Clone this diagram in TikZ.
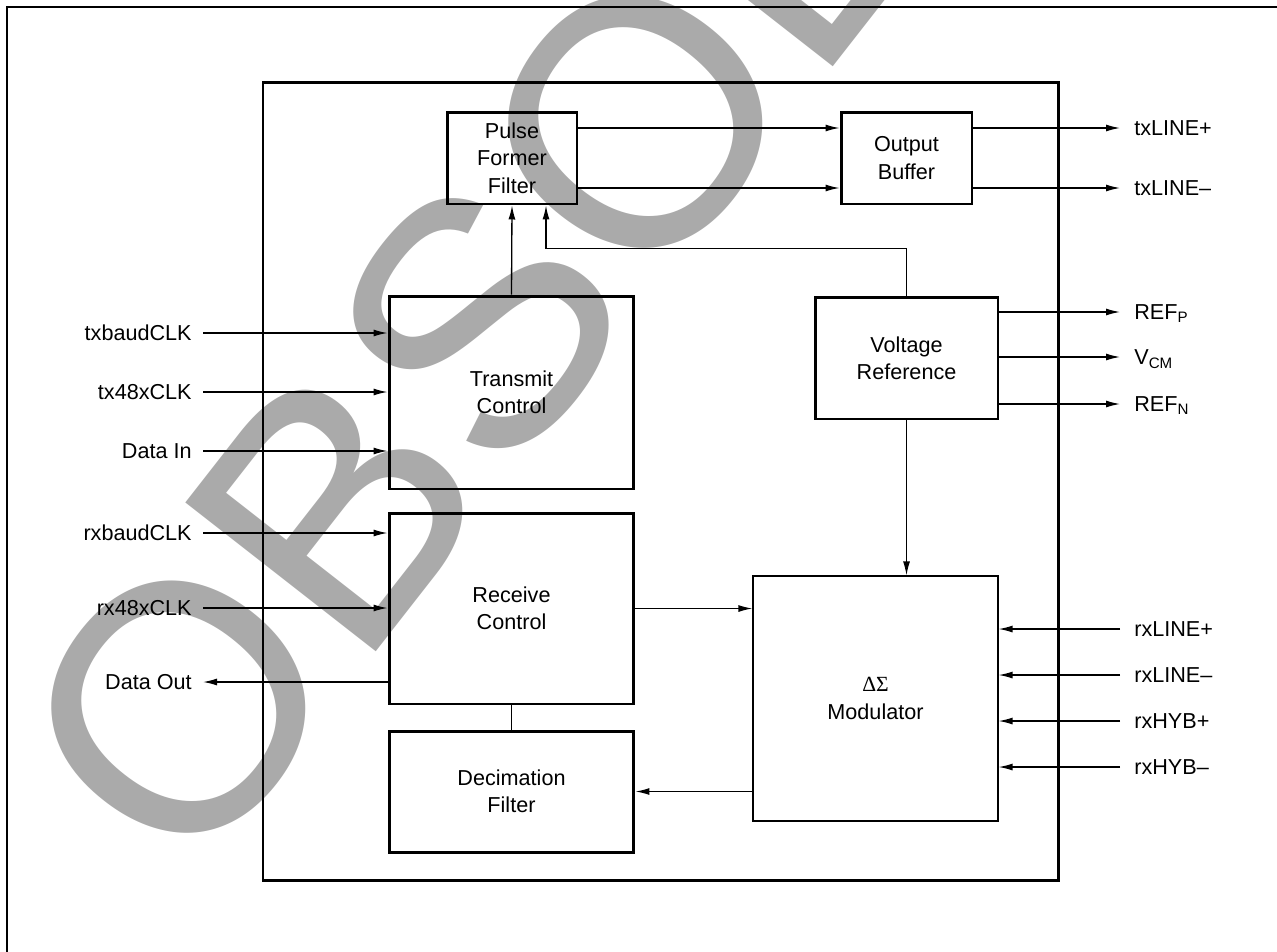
\documentclass[tikz,border=0pt]{standalone}
\usepackage{fontspec}
\setmainfont{Liberation Sans}
\newfontfamily\deltafont{Liberation Serif}
\newfontfamily\stampfont{Liberation Sans}
\usepackage{tikz}
\usetikzlibrary{arrows.meta,calc}

\definecolor{stampgray}{RGB}{170,170,170}
\newcommand{\labelfont}{\fontsize{12.3}{15.6}\selectfont}

\tikzset{
  block/.style={draw, line width=1.7pt, align=center, inner sep=0pt, font=\labelfont},
  pinl/.style={anchor=east, inner xsep=0.22cm, inner ysep=0pt, text height=8.8pt, text depth=0pt, font=\labelfont},
  pinr/.style={anchor=west, inner xsep=0.28cm, inner ysep=0pt, text height=8.8pt, text depth=0pt, font=\labelfont},
  sig/.style={line width=0.75pt, -{Latex[length=0.28cm,width=0.14cm]}},
  stamp/.style={text=stampgray, inner sep=0pt, font=\stampfont\fontsize{200}{200}\selectfont}
}

\begin{document}
\begin{tikzpicture}[x=0.02cm,y=-0.02cm]
    \useasboundingbox (0,0) rectangle (1277,951);

    % Watermark
    \node[stamp, rotate=52, anchor=base west] (stamp) at (190,890) {OBSOLETE};

    % Frame and chip outline
    \draw[line width=1.4pt] (7,970) -- (7,7) -- (1300,7);
    \draw[line width=1.7pt] (263,82) rectangle (1058,880);

    % Blocks
    \node[block, minimum width=2.6cm, minimum height=1.84cm] (pff) at (512,158) {Pulse\\Former\\Filter};
    \node[block, minimum width=2.62cm, minimum height=1.84cm] (ob) at (906.5,158) {Output\\Buffer};
    \node[block, minimum width=4.9cm, minimum height=3.86cm] (tc) at (511.5,392.5) {Transmit\\Control};
    \node[block, minimum width=3.66cm, minimum height=2.44cm] (vr) at (906.5,358) {Voltage\\Reference};
    \node[block, minimum width=4.9cm, minimum height=3.82cm] (rc) at (511.5,608.5) {Receive\\Control};
    \node[block, minimum width=4.9cm, minimum height=2.42cm] (df) at (511.5,791.5) {Decimation\\Filter};
    \node[block, line width=0.7pt, minimum width=4.9cm, minimum height=4.9cm] (mod) at (875.5,698.5) {{\deltafont ΔΣ}\\Modulator};

    % Pins, left side
    \node[pinl] (txbaud) at (203,333) {txbaudCLK};
    \node[pinl] (txclk) at (203,392) {tx48xCLK};
    \node[pinl] (din) at (203,451) {Data In};
    \node[pinl] (rxbaud) at (203,533) {rxbaudCLK};
    \node[pinl] (rxclk) at (203,608) {rx48xCLK};
    \node[pinl] (dout) at (203,682) {Data Out};

    % Pins, right side
    \node[pinr] (txp) at (1120,128) {txLINE+};
    \node[pinr] (txn) at (1120,188) {txLINE–};
    \node[pinr] (refp) at (1120,312) {REF\textsubscript{P}};
    \node[pinr] (vcm) at (1120,357) {V\textsubscript{CM}};
    \node[pinr] (refn) at (1120,404) {REF\textsubscript{N}};
    \node[pinr] (rxlp) at (1120,629) {rxLINE+};
    \node[pinr] (rxln) at (1120,675) {rxLINE–};
    \node[pinr] (rxhp) at (1120,721) {rxHYB+};
    \node[pinr] (rxhn) at (1120,767) {rxHYB–};

    % Transmit path
    \draw[sig] (tc.north) -- (pff.south);
    \draw[sig] (pff.east |- txp) -- (ob.west |- txp);
    \draw[sig] (pff.east |- txn) -- (ob.west |- txn);
    \draw[sig] (ob.east |- txp) -- (txp.west);
    \draw[sig] (ob.east |- txn) -- (txn.west);
    \draw[sig] (txbaud.east) -- (txbaud.east -| tc.west);
    \draw[sig] (txclk.east) -- (txclk.east -| tc.west);
    \draw[sig] (din.east) -- (din.east -| tc.west);

    % Reference
    \coordinate (vrtap) at ($(pff.south)+(34,0)$);
    \draw[sig] (vr.north) -- ++(0,-47) -| (vrtap);
    \draw[sig] (vr.east |- refp) -- (refp.west);
    \draw[sig] (vr.east |- vcm) -- (vcm.west);
    \draw[sig] (vr.east |- refn) -- (refn.west);
    \draw[sig] (vr.south) -- (vr.south |- mod.north);

    % Receive path
    \draw[sig] (rxbaud.east) -- (rxbaud.east -| rc.west);
    \draw[sig] (rxclk.east) -- (rxclk.east -| rc.west);
    \draw[sig] (dout.east -| rc.west) -- (dout.east);
    \draw[sig] (rc.east) -- (rc.east -| mod.west);
    \draw[line width=0.75pt] (rc.south) -- (df.north);
    \draw[sig] (mod.west |- df.east) -- (df.east);
    \draw[sig] (rxlp.west) -- (rxlp.west -| mod.east);
    \draw[sig] (rxln.west) -- (rxln.west -| mod.east);
    \draw[sig] (rxhp.west) -- (rxhp.west -| mod.east);
    \draw[sig] (rxhn.west) -- (rxhn.west -| mod.east);
\end{tikzpicture}
\end{document}
